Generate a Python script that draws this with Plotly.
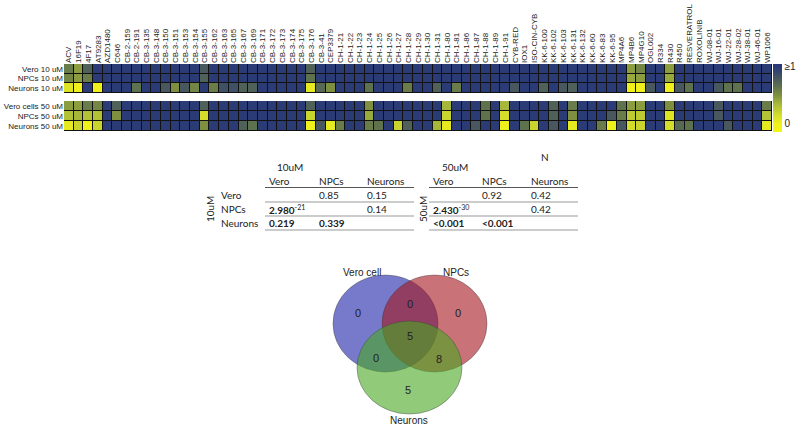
import plotly.graph_objects as go

W, H = 800, 429

# ---------------- data ----------------
compounds = ["ACV", "16F19", "4F17", "AT9283", "AZD1480", "C646", "CB-2-159", "CB-2-191",
             "CB-3-135", "CB-3-148", "CB-3-150", "CB-3-151", "CB-3-153", "CB-3-154", "CB-3-155",
             "CB-3-162", "CB-3-163", "CB-3-165", "CB-3-167", "CB-3-169", "CB-3-171", "CB-3-172",
             "CB-3-173", "CB-3-174", "CB-3-175", "CB-3-176", "CB-3-41", "CEP3379", "CH-1-21",
             "CH-1-22", "CH-1-23", "CH-1-24", "CH-1-25", "CH-1-26", "CH-1-27", "CH-1-28",
             "CH-1-29", "CH-1-30", "CH-1-31", "CH-1-80", "CH-1-81", "CH-1-86", "CH-1-87",
             "CH-1-88", "CH-1-89", "CH-1-91", "CYB-RED", "IOX1", "ISO-CIN-CYB", "KK-6-100",
             "KK-6-102", "KK-6-103", "KK-6-131", "KK-6-132", "KK-6-60", "KK-6-83", "KK-6-95",
             "MP4A6", "MP4B6", "MP4G10", "OGL002", "R334", "R430", "R450", "RESVERATROL",
             "ROXOLINIB", "WJ-08-01", "WJ-16-01", "WJ-22-01", "WJ-28-02", "WJ-38-01",
             "WJ-46-01", "WP1066"]

rows_10 = ["Vero 10 uM", "NPCs 10 uM", "Neurons 10 uM"]
rows_50 = ["Vero cells 50 uM", "NPCs 50 uM", "Neurons 50 uM"]

vero_10 = [0.6, 0.45, 0.75, 1, 1, 1, 1, 1, 1, 1,
           1, 1, 1, 1, 0.8, 1, 1, 1, 1, 1,
           1, 1, 1, 1, 1, 0.75, 1, 1, 1, 1,
           1, 1, 1, 1, 1, 1, 1, 1, 1, 1,
           1, 1, 1, 1, 1, 1, 1, 1, 1, 1,
           1, 1, 1, 1, 1, 1, 1, 1, 0.45, 0.55,
           1, 1, 0.45, 1, 1, 1, 1, 1, 1, 1,
           1, 1, 1]
npcs_10 = [0.55, 0.45, 0.6, 1, 1, 1, 1, 1, 1, 1,
           1, 1, 1, 1, 0.75, 1, 1, 1, 1, 1,
           1, 1, 1, 1, 1, 0.65, 1, 1, 1, 1,
           1, 1, 1, 1, 1, 1, 1, 1, 1, 1,
           1, 1, 1, 1, 1, 1, 1, 1, 1, 1,
           1, 1, 1, 1, 1, 1, 1, 1, 0.4, 0.45,
           1, 1, 0.4, 1, 1, 1, 1, 1, 1, 1,
           1, 1, 1]
neurons_10 = [0.1, 0.0, 1, 0.0, 1, 1, 1, 0.65, 1, 1,
              0.8, 0.5, 0.8, 0.55, 1, 0.6, 0.85, 0.85, 0.75, 0.75,
              1, 1, 1, 1, 1, 0.05, 0.7, 0.5, 1, 1,
              1, 0.65, 1, 1, 1, 0.6, 1, 1, 0.75, 1,
              0.6, 1, 1, 1, 1, 1, 0.8, 1, 1, 0.75,
              1, 0.8, 0.75, 1, 1, 1, 1, 1, 0.0, 0.0,
              0.8, 1, 0.0, 0.8, 0.65, 1, 1, 0.8, 0.65, 0.65,
              1, 1, 1]
vero_50 = [0.45, 0.45, 0.6, 0.55, 1, 0.75, 1, 1, 1, 1,
           1, 1, 1, 1, 0.75, 1, 1, 1, 1, 1,
           1, 1, 1, 1, 1, 0.75, 1, 1, 1, 1,
           1, 0.5, 1, 1, 1, 1, 1, 1, 1, 0.35,
           1, 1, 1, 0.65, 1, 0.35, 1, 1, 1, 1,
           0.75, 1, 0.6, 1, 1, 1, 1, 0.65, 0.45, 0.45,
           1, 1, 0.5, 1, 1, 1, 1, 0.8, 1, 1,
           1, 1, 0.6]
npcs_50 = [0.3, 0.35, 0.3, 0.3, 1, 0.5, 1, 1, 1, 1,
           1, 1, 1, 1, 0.15, 1, 1, 1, 1, 1,
           1, 1, 1, 1, 1, 0.2, 1, 1, 1, 1,
           1, 0.4, 1, 1, 1, 1, 1, 1, 1, 0.2,
           1, 1, 1, 0.65, 1, 0.15, 1, 1, 1, 1,
           0.75, 1, 0.5, 1, 1, 1, 0.8, 0.6, 0.25, 0.25,
           1, 1, 0.1, 1, 1, 1, 1, 0.8, 1, 1,
           1, 1, 0.3]
neurons_50 = [0.05, 0.2, 0.0, 0.2, 1, 1, 1, 1, 1, 1,
              1, 1, 1, 1, 0.5, 1, 1, 1, 0.75, 0.65,
              1, 1, 1, 1, 1, 0.0, 0.8, 0.05, 0.6, 1,
              1, 0.6, 0.65, 1, 0.2, 0.75, 1, 1, 0.35, 0.05,
              1, 1, 0.8, 1, 1, 0.0, 1, 0.65, 0.2, 1,
              0.8, 1, 0.05, 1, 1, 0.6, 0.0, 0.8, 0.15, 0.2,
              1, 1, 0.15, 0.7, 0.65, 1, 1, 1, 0.8, 1,
              1, 1, 0.05]

# p-value tables
tbl_cols = ["Vero", "NPCs", "Neurons"]
tbl_rows = ["Vero", "NPCs", "Neurons"]
tbl_10 = [["", "0.85", "0.15"],
          ["<b>2.980</b><sup>-21</sup>", "", "0.14"],
          ["<b>0.219</b>", "<b>0.339</b>", ""]]
tbl_50 = [["", "0.92", "0.42"],
          ["<b>2.430</b><sup>-30</sup>", "", "0.42"],
          ["<b>&lt;0.001</b>", "<b>&lt;0.001</b>", ""]]

# Venn
venn_sets = ["Vero cell", "NPCs", "Neurons"]
venn_counts = {"V": 0, "N": 0, "Ne": 5, "V&N": 0, "V&Ne": 0, "N&Ne": 8, "all": 5}

# ---------------- helpers ----------------
def px(x):
    return x / W

def py(y):
    return 1 - y / H

zmin, zmax = -0.15, 1.05
stops = [(-0.15, "#f4f41a"), (0.0, "#f0f01c"), (0.15, "#d4de2a"), (0.35, "#a6b73a"),
         (0.5, "#7e9040"), (0.65, "#5f724e"), (0.8, "#48585e"), (0.92, "#34446e"),
         (1.05, "#26357a")]
cscale = [[(v - zmin) / (zmax - zmin), c] for v, c in stops]

fig = go.Figure()

fig.add_trace(go.Heatmap(
    z=[vero_10, npcs_10, neurons_10], x=compounds, y=rows_10,
    zmin=zmin, zmax=zmax, colorscale=cscale, xgap=1, ygap=1,
    xaxis="x", yaxis="y", hoverinfo="skip",
    colorbar=dict(x=px(773), xanchor="left", y=py(97.5), yanchor="middle",
                  thickness=9, lenmode="pixels", len=68, outlinewidth=0,
                  tickvals=[0, 1], ticktext=["0", "≥1"], ticks="",
                  tickfont=dict(family="Liberation Sans", size=10, color="#222"),
                  xpad=0, ypad=0)))
fig.add_trace(go.Heatmap(
    z=[vero_50, npcs_50, neurons_50], x=compounds, y=rows_50,
    zmin=zmin, zmax=zmax, colorscale=cscale, xgap=1, ygap=1,
    xaxis="x2", yaxis="y2", showscale=False, hoverinfo="skip"))

lab_font = dict(family="Liberation Sans", size=8, color="#222")
fig.update_layout(
    width=W, height=H, margin=dict(l=0, r=0, t=0, b=0, autoexpand=False),
    paper_bgcolor="white", plot_bgcolor="#111",
    showlegend=False,
    xaxis=dict(domain=[px(64), px(772)], anchor="y", side="top", tickangle=-90,
               tickfont=dict(family="Liberation Sans", size=8, color="#222"),
               tickmode="linear", dtick=1,
               showgrid=False, zeroline=False, ticks="", ticklen=0, automargin=False),
    yaxis=dict(domain=[py(93), py(64)], anchor="x", autorange="reversed",
               tickmode="linear", dtick=1, automargin=False,
               tickfont=lab_font, showgrid=False, zeroline=False, ticks="", ticklen=0),
    xaxis2=dict(domain=[px(64), px(772)], anchor="y2", showticklabels=False,
                showgrid=False, zeroline=False, matches="x", automargin=False),
    yaxis2=dict(domain=[py(131), py(101)], anchor="x2", autorange="reversed",
                tickmode="linear", dtick=1, automargin=False,
                tickfont=lab_font, showgrid=False, zeroline=False, ticks="", ticklen=0),
)

# ---------------- tables ----------------
tfont = dict(family="Lato", size=10, color="#222")
ann = []
shapes = []

def note(x, y, text, font, xanchor="center", angle=0):
    ann.append(dict(x=px(x), y=py(y), xref="paper", yref="paper", text=text,
                    showarrow=False, xanchor=xanchor, yanchor="middle",
                    textangle=angle, font=font))

def add_table(x_label, x_cols, title, title_x, vlabel_x, cells):
    note(title_x, 167, title, tfont)
    note(vlabel_x, 209, title, tfont, angle=-90)
    for c, xc in zip(tbl_cols, x_cols):
        note(xc, 181, c, tfont, xanchor="left")
    row_y = [195, 209, 223]
    for r, (name, yy) in enumerate(zip(tbl_rows, row_y)):
        if x_label is not None:
            note(x_label, yy, name, tfont, xanchor="left")
        for c, xc in enumerate(x_cols):
            if cells[r][c]:
                note(xc, yy, cells[r][c], tfont, xanchor="left")
    x0, x1 = x_cols[0] - 2, x_cols[0] + 147
    for i, ly in enumerate([187.5, 202, 216, 230]):
        shapes.append(dict(type="line", xref="paper", yref="paper",
                           x0=px(x0), x1=px(x1), y0=py(ly), y1=py(ly),
                           line=dict(color="#555" if i == 0 else "#999", width=1)))

add_table(219, [267, 317, 365], "10uM", 290, 210, tbl_10)
add_table(None, [431, 480, 529], "50uM", 455, 423, tbl_50)
note(545, 157, "N", tfont)

# ---------------- Venn ----------------
circles = [  # (x0, x1, y0, y1) pixel boxes
    (333, 438, 275, 372, "rgba(28,34,168,0.6)"),
    (382, 487, 275, 372, "rgba(165,20,28,0.6)"),
    (357, 462, 321, 414, "rgba(72,168,34,0.6)"),
]
for x0, x1, y0, y1, col in circles:
    shapes.append(dict(type="circle", xref="paper", yref="paper",
                       x0=px(x0), x1=px(x1), y0=py(y1), y1=py(y0),
                       fillcolor=col, line=dict(color="rgba(60,60,60,0.5)", width=0.8),
                       layer="above"))

vfont = dict(family="Liberation Sans", size=11, color="#222")
count_pos = {"V": (358, 313), "V&N": (410, 304), "N": (458, 313), "all": (410, 336),
             "V&Ne": (376, 358), "N&Ne": (439, 359), "Ne": (408, 390)}
for k, (xx, yy) in count_pos.items():
    note(xx, yy, str(venn_counts[k]), vfont)
set_pos = [(362, 272), (456, 272), (409, 420)]
for name, (xx, yy) in zip(venn_sets, set_pos):
    note(xx, yy, name, dict(family="Liberation Sans", size=10, color="#222"))

fig.update_layout(annotations=ann, shapes=shapes)
fig.write_html("out.html", config={"displayModeBar": False},
               post_script="document.body.style.margin='0';document.body.style.overflow='hidden';")
